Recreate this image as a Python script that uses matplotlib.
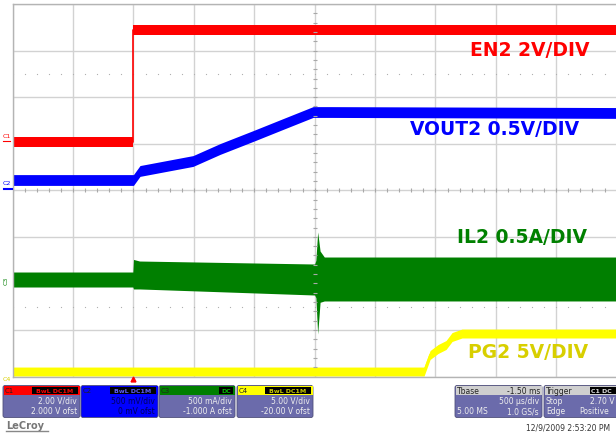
import matplotlib
matplotlib.use('Agg')
import matplotlib.pyplot as plt
from matplotlib.patches import FancyBboxPatch, Rectangle
import numpy as np

# ---- scope setup ----
ms_per_div = 0.5
t_start = -1.0
n_xdiv, n_ydiv = 10, 8

# channel scale (units/div) and screen zero (div from bottom)
scales = {"C1": 2.0, "C2": 0.5, "C3": 0.5, "C4": 5.0}
zeros = {"C1": 5.036, "C2": 4.22, "C3": 2.094, "C4": 0.107}

# ---- traces (time in ms) ----
# C1 EN2, volts
en_t = [-1.0, 0.0, 0.0, 4.0]
en_v = [0.0, 0.0, 4.81, 4.81]
en_band = [0.22, 0.22, 0.21, 0.21]

# C2 VOUT2, volts
vout_t = [-1.0, 0.0, 0.054, 0.493, 0.717, 0.99, 1.238, 1.487, 1.63, 4.0]
vout_v = [0.0, 0.0, 0.097, 0.204, 0.333, 0.472, 0.601, 0.730, 0.730, 0.72]
vout_band = 0.058

# C3 IL2, amps (noise envelope)
il_t = [-1.0, -0.005, 0.0, 0.05, 1.50, 1.51, 1.525, 1.545, 1.58, 4.0]
il_hi = [0.075, 0.075, 0.21, 0.193, 0.161, 0.20, 0.505, 0.30, 0.236, 0.236]
il_lo = [-0.086, -0.086, -0.107, -0.107, -0.172, -0.20, -0.591, -0.25, -0.236, -0.236]

# C4 PG2, volts
pg_t = [-1.0, 2.406, 2.456, 2.522, 2.588, 2.638, 2.720, 4.0]
pg_v = [0.0, 0.0, 1.772, 2.416, 2.846, 3.705, 4.08, 4.08]
pg_band = 0.48

# ---- info bar texts ----
ch_names = ["C1", "C2", "C3", "C4"]
ch_vdiv = ["2.00 V/div", "500 mV/div", "500 mA/div", "5.00 V/div"]
ch_ofst = ["2.000 V ofst", "0 mV ofst", "-1.000 A ofst", "-20.00 V ofst"]
ch_tags = ["BwL DC1M", "BwL DC1M", "DC", "BwL DC1M"]
trace_labels = ["EN2 2V/DIV", "VOUT2 0.5V/DIV", "IL2 0.5A/DIV", "PG2 5V/DIV"]

colors = {"C1": "#ff0000", "C2": "#0000ff", "C3": "#007f00", "C4": "#ffff00"}
W, H = 616, 435


def scr(ch, v):
    return zeros[ch] + np.asarray(v) / scales[ch]


fig = plt.figure(figsize=(W / 100, H / 100), dpi=100)
fig.patch.set_facecolor('white')
ax = fig.add_axes([12.7 / W, 1 - 377.5 / H, (616.6 - 12.7) / W, (377.5 - 5) / H])
ax.set_xlim(t_start, t_start + n_xdiv * ms_per_div)
ax.set_ylim(0, n_ydiv)
ax.set_xticks(np.arange(t_start, t_start + n_xdiv * ms_per_div + 0.01, ms_per_div))
ax.set_yticks(range(n_ydiv + 1))
ax.grid(True, color='#d2d2d2', lw=1)
ax.set_axisbelow(True)
ax.tick_params(length=0, labelbottom=False, labelleft=False)
for s in ax.spines.values():
    s.set_color('#b4b4b4')
    s.set_linewidth(1)

# center cross ticks and dotted rows
tc = t_start + n_xdiv * ms_per_div / 2
xs = np.arange(t_start, t_start + n_xdiv * ms_per_div + 0.001, ms_per_div / 5)
ys = np.arange(0, n_ydiv + 0.001, 0.2)
ax.plot(xs, [n_ydiv / 2] * len(xs), '|', ms=3, color='#a8a8a8', mew=0.8)
ax.plot([tc] * len(ys), ys, '_', ms=3, color='#a8a8a8', mew=0.8)
for yy in [1.5, 6.5]:
    ax.plot(xs, [yy] * len(xs), 's', ms=0.8, color='#b0b0b0', mew=0)

# traces
en_v = np.array(en_v); en_band = np.array(en_band)
ax.fill_between(en_t, scr("C1", en_v - en_band), scr("C1", en_v + en_band),
                color=colors["C1"], lw=0)
ax.plot(en_t, scr("C1", en_v), color=colors["C1"], lw=1.2)

vout_v = np.array(vout_v)
ax.fill_between(vout_t, scr("C2", vout_v - vout_band), scr("C2", vout_v + vout_band),
                color=colors["C2"], lw=0)
ax.plot(vout_t, scr("C2", vout_v), color=colors["C2"], lw=1.2)

ax.fill_between(il_t, scr("C3", il_lo), scr("C3", il_hi), color=colors["C3"], lw=0)

pg_v = np.array(pg_v)
ax.fill_between(pg_t, scr("C4", pg_v - pg_band), scr("C4", pg_v + pg_band),
                color=colors["C4"], lw=0)
ax.plot(pg_t, scr("C4", pg_v), color=colors["C4"], lw=1.5)

# overlay in pixel coordinates
ov = fig.add_axes([0, 0, 1, 1])
ov.set_xlim(0, W)
ov.set_ylim(H, 0)
ov.axis('off')

label_pos = [(530, 50), (495, 130), (522, 238), (528, 353)]
label_cols = ["#ff0000", "#0000ff", "#008000", "#d8cf00"]
for txt, (px, py), c in zip(trace_labels, label_pos, label_cols):
    ov.text(px, py, txt, color=c, fontsize=13.5, weight='bold', ha='center', va='center')

# channel markers at left
ov.text(2.5, 137, "C1", color=colors["C1"], fontsize=4.5, va='center')
ov.plot([3, 10], [142, 142], color=colors["C1"], lw=0.8)
ov.text(3, 184, "C2", color=colors["C2"], fontsize=4.5, va='center')
ov.plot([4, 12], [190, 190], color=colors["C2"], lw=1.5)
ov.text(6.5, 281, "C3", color=colors["C3"], fontsize=4.5, va='center', ha='center', rotation=90)
ov.text(2.5, 380, "C4", color="#d8cf00", fontsize=4.5, va='center')

# trigger marker
ov.plot([133], [380], marker='^', color='red', ms=3.5)

lav = '#6b6bab'


def info_box(x0, x1, head_col, body_col):
    ov.add_patch(FancyBboxPatch((x0, 386.5), x1 - x0, 32, boxstyle="round,pad=0,rounding_size=2",
                                fc=body_col, ec='#50507a', lw=0.6))
    ov.add_patch(Rectangle((x0 + 0.5, 387), x1 - x0 - 1, 8.5, fc=head_col, ec='none'))


box_x = [(3, 80), (81, 158), (159, 235), (237, 313)]
for i, ch in enumerate(ch_names):
    x0, x1 = box_x[i]
    body = colors[ch] if ch == "C2" else lav
    info_box(x0, x1, colors[ch], body)
    ov.text(x0 + 2, 391.3, ch, fontsize=5, color='#222222', va='center')
    tw = 14 if ch_tags[i] == "DC" else 46
    ov.add_patch(Rectangle((x1 - 2 - tw, 388), tw, 6.6, fc='black', ec='none'))
    tc_col = '#cccc00' if ch == "C4" else ('#00bb00' if ch == "C3" else colors[ch])
    if ch == "C2":
        tc_col = '#6060ff'
    ov.text(x1 - 2 - tw / 2, 391.3, ch_tags[i], fontsize=4.5, color=tc_col,
            ha='center', va='center', weight='bold')
    tcol = '#00005a' if ch == "C2" else '#eeeeee'
    ov.text(x1 - 3, 401.5, ch_vdiv[i], fontsize=5.5, color=tcol, ha='right', va='center')
    ov.text(x1 - 3, 412, ch_ofst[i], fontsize=5.5, color=tcol, ha='right', va='center')

# timebase box
info_box(455, 542, '#cfcfcf', lav)
ov.text(457, 391.3, "Tbase", fontsize=5.5, color='#222222', va='center')
ov.text(540, 391.3, "-1.50 ms", fontsize=5.5, color='#222222', va='center', ha='right')
ov.text(539, 401.5, "500 \u00b5s/div", fontsize=5.5, color='#eeeeee', va='center', ha='right')
ov.text(457, 412, "5.00 MS", fontsize=5.5, color='#eeeeee', va='center')
ov.text(539, 412, "1.0 GS/s", fontsize=5.5, color='#eeeeee', va='center', ha='right')

# trigger box
info_box(544, 622, '#cfcfcf', lav)
ov.text(546, 391.3, "Trigger", fontsize=5.5, color='#222222', va='center')
ov.add_patch(Rectangle((590, 388), 30, 6.6, fc='black', ec='none'))
ov.text(591, 391.3, "C1 DC", fontsize=4.5, color='#dddddd', va='center', weight='bold')
ov.text(546, 401.5, "Stop", fontsize=5.5, color='#eeeeee', va='center')
ov.text(614, 401.5, "2.70 V", fontsize=5.5, color='#eeeeee', va='center', ha='right')
ov.text(546, 412, "Edge", fontsize=5.5, color='#eeeeee', va='center')
ov.text(579, 412, "Positive", fontsize=5.5, color='#eeeeee', va='center')

ov.text(6, 426.5, "LeCroy", fontsize=7, color='#777777', va='center', weight='bold')
ov.plot([6, 48], [432, 432], color='#888888', lw=1)
ov.text(610, 428, "12/9/2009 2:53:20 PM", fontsize=5.5, color='#333333', va='center', ha='right')

fig.savefig("out.png", dpi=100)
